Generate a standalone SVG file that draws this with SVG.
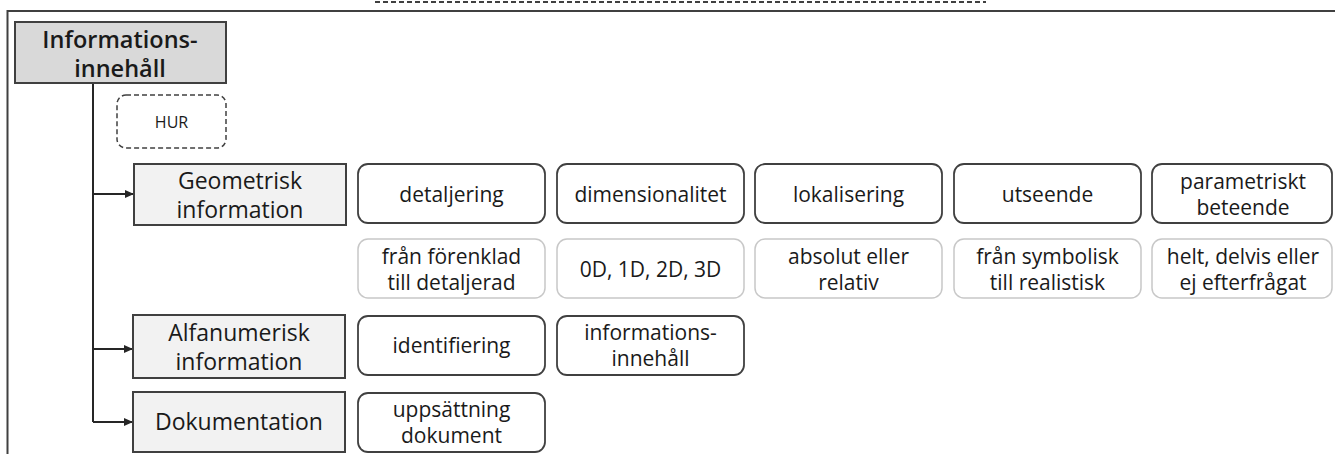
<svg xmlns="http://www.w3.org/2000/svg" width="1335" height="454" viewBox="0 0 1335 454">
<defs>
<marker id="arr" markerWidth="10" markerHeight="10" refX="9" refY="5" orient="auto" markerUnits="userSpaceOnUse">
<path d="M1,1 L10,5 L1,9 Z" fill="#262626"/>
</marker>
<style>
text{font-family:"Open Sans","Noto Sans","Liberation Sans",sans-serif;fill:#1a1a1a;text-anchor:middle}
.t{font-size:23px}
.s{font-size:21px}
.main{fill:#d9d9d9;stroke:#404040;stroke-width:2}
.cat{fill:#f2f2f2;stroke:#404040;stroke-width:2}
.box{fill:#fff;stroke:#404040;stroke-width:1.8}
.sub{fill:#fff;stroke:#c8c8c8;stroke-width:1.5}
.conn{fill:none;stroke:#262626;stroke-width:2}
</style>
</defs>
<rect width="1335" height="454" fill="#fff"/>
<line x1="375" y1="2" x2="986" y2="2" stroke="#404040" stroke-width="2" stroke-dasharray="5,3"/>
<path d="M7.5,454 V11 H1340" fill="none" stroke="#404040" stroke-width="2"/>

<g id="connectors">
<path class="conn" d="M93,83 V422"/>
<path class="conn" d="M93,194 H133" marker-end="url(#arr)"/>
<path class="conn" d="M93,349 H132" marker-end="url(#arr)"/>
<path class="conn" d="M93,422 H132" marker-end="url(#arr)"/>
</g>

<g id="informationsinnehall">
<rect class="main" x="15" y="22" width="211" height="61"/>
<text x="120" y="48" style="font-size:23.5px;font-weight:600">Informations-</text>
<text x="120" y="77" style="font-size:23.5px;font-weight:600">innehåll</text>
</g>

<g id="hur">
<rect x="117" y="95" width="109" height="53" rx="9" fill="#fff" stroke="#404040" stroke-width="1.5" stroke-dasharray="5,3"/>
<text x="171.5" y="128" style="font-size:16px">HUR</text>
</g>

<g id="geometrisk">
<rect class="cat" x="134" y="164" width="212" height="61"/>
<text class="t" x="240" y="189">Geometrisk</text>
<text class="t" x="240" y="218">information</text>
</g>
<g id="alfanumerisk">
<rect class="cat" x="133" y="315" width="212" height="63"/>
<text class="t" x="239" y="341">Alfanumerisk</text>
<text class="t" x="239" y="370">information</text>
</g>
<g id="dokumentation">
<rect class="cat" x="133" y="392" width="212" height="60"/>
<text class="t" x="239" y="430">Dokumentation</text>
</g>

<g id="detaljering">
<rect class="box" x="358" y="164" width="187" height="59" rx="10"/>
<text class="s" x="451.5" y="202">detaljering</text>
</g>
<g id="dimensionalitet">
<rect class="box" x="557" y="164" width="187" height="59" rx="10"/>
<text class="s" x="650.5" y="202">dimensionalitet</text>
</g>
<g id="lokalisering">
<rect class="box" x="755" y="164" width="187" height="59" rx="10"/>
<text class="s" x="848.5" y="202">lokalisering</text>
</g>
<g id="utseende">
<rect class="box" x="954" y="164" width="187" height="59" rx="10"/>
<text class="s" x="1047.5" y="202">utseende</text>
</g>
<g id="parametriskt">
<rect class="box" x="1152" y="164" width="180" height="59" rx="10"/>
<text class="s" x="1243" y="189">parametriskt</text>
<text class="s" x="1243" y="215">beteende</text>
</g>

<g id="detaljering-varde">
<rect class="sub" x="358" y="239" width="187" height="59" rx="10"/>
<text class="s" x="451.5" y="264">från förenklad</text>
<text class="s" x="451.5" y="290">till detaljerad</text>
</g>
<g id="dimensionalitet-varde">
<rect class="sub" x="557" y="239" width="187" height="59" rx="10"/>
<text class="s" x="650.5" y="277">0D, 1D, 2D, 3D</text>
</g>
<g id="lokalisering-varde">
<rect class="sub" x="755" y="239" width="187" height="59" rx="10"/>
<text class="s" x="848.5" y="264">absolut eller</text>
<text class="s" x="848.5" y="290">relativ</text>
</g>
<g id="utseende-varde">
<rect class="sub" x="954" y="239" width="187" height="59" rx="10"/>
<text class="s" x="1047.5" y="264">från symbolisk</text>
<text class="s" x="1047.5" y="290">till realistisk</text>
</g>
<g id="parametriskt-varde">
<rect class="sub" x="1152" y="239" width="180" height="59" rx="10"/>
<text class="s" x="1243" y="264">helt, delvis eller</text>
<text class="s" x="1243" y="290">ej efterfrågat</text>
</g>

<g id="identifiering">
<rect class="box" x="358" y="316" width="187" height="59" rx="10"/>
<text class="s" x="451.5" y="353">identifiering</text>
</g>
<g id="informationsinnehall-alfa">
<rect class="box" x="557" y="316" width="187" height="59" rx="10"/>
<text class="s" x="650.5" y="340">informations-</text>
<text class="s" x="650.5" y="366">innehåll</text>
</g>
<g id="uppsattning">
<rect class="box" x="358" y="393" width="187" height="59" rx="10"/>
<text class="s" x="451.5" y="417">uppsättning</text>
<text class="s" x="451.5" y="443">dokument</text>
</g>
</svg>
